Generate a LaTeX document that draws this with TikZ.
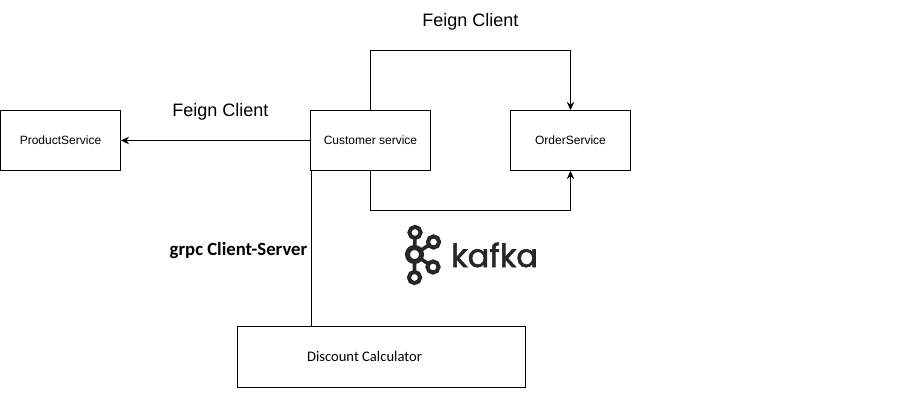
\documentclass[tikz,border=0pt]{standalone}
\usepackage{fontspec}
\setmainfont{Liberation Sans}
\newfontfamily\carlito{Carlito}
\newfontfamily\poppins[FakeBold=1.8]{Poppins}
\usetikzlibrary{arrows.meta}
\tikzset{
    svcbox/.style={draw,line width=1pt,minimum width=120pt,minimum height=60pt,inner sep=0pt,font=\fontsize{12}{14}\selectfont},
    feignlabel/.style={font=\fontsize{18}{21}\selectfont,inner sep=0pt},
    conn/.style={line width=1pt},
    connarrow/.style={conn,-{Stealth[length=8pt,width=7.5pt]}},
    logoring/.style={draw=black!85,line width=4pt,fill=white},
    logoline/.style={draw=black!85,line width=3.6pt}
}
\begin{document}
\begin{tikzpicture}[x=1pt,y=-1pt]
    \useasboundingbox (0,0) rectangle (900,417);

    \node[svcbox] (product) at (60.5,140.5) {ProductService};
    \node[svcbox] (customer) at (370.5,140.5) {Customer service};
    \node[svcbox] (order) at (570.5,140.5) {OrderService};
    \node[draw,line width=1pt,minimum width=288pt,minimum height=61pt,inner sep=0pt] (discount) at (381.5,357) {};
    \node[font=\carlito\fontsize{14.6}{17}\selectfont,inner sep=0pt] (discountlabel) at (364.5,356.5) {Discount Calculator};

    \node[feignlabel] (feigntop) at (470.5,22) {Feign Client};
    \node[feignlabel] (feignleft) at (220.5,111.5) {Feign Client};
    \node[font=\carlito\bfseries\fontsize{18.7}{22}\selectfont,inner sep=0pt] (grpclabel) at (238.5,251) {grpc Client-Server};

    % connectors
    \draw[connarrow] (customer.west) -- (product.east);
    \draw[connarrow] (customer.north) -- ++(0,-59.5) -| (order.north);
    \draw[connarrow] (customer.south) -- ++(0,39.5) -| (order.south);
    \draw[conn] ([xshift=1pt]customer.south west) -- ([xshift=1pt]customer.south west |- discount.north);

    % kafka logo
    \coordinate (hub) at (414.5,254.5);
    \coordinate (ringa) at (415,232.5);
    \coordinate (ringb) at (414.5,277.5);
    \coordinate (ringc) at (433.5,242);
    \coordinate (ringd) at (433,267);
    \draw[logoline] (ringa) -- (hub) -- (ringb) (ringc) -- (hub) -- (ringd);
    \foreach \ringname in {ringa,ringb,ringc,ringd} {
        \draw[logoring] (\ringname) circle (5.6pt);
    }
    \draw[logoring,line width=5pt] (hub) circle (7pt);
    \node[anchor=base west,inner sep=0pt,text=black!85,font=\poppins\fontsize{32}{36}\selectfont] (kafkalabel) at (451,267) {kafka};
\end{tikzpicture}
\end{document}
